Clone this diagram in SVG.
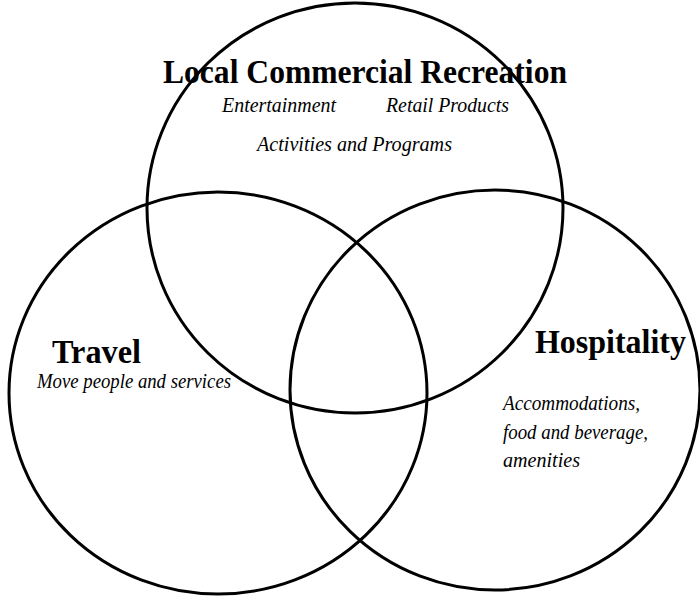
<svg xmlns="http://www.w3.org/2000/svg" width="700" height="596" viewBox="0 0 700 596">
<style>
.c{fill:none;stroke:#000;stroke-width:3}
.h{font-family:"Liberation Serif","Times New Roman",serif;font-weight:bold;font-size:34px;fill:#000}
.i{font-family:"Liberation Serif","Times New Roman",serif;font-style:italic;font-size:22px;fill:#000}
</style>
<rect width="700" height="596" fill="#fff"/>
<g id="connectors"/>
<g id="recreation">
<ellipse class="c" cx="355" cy="208" rx="208" ry="205"/>
<text class="h" x="163" y="83" textLength="404" lengthAdjust="spacingAndGlyphs">Local Commercial Recreation</text>
<text class="i" x="222" y="112" textLength="114" lengthAdjust="spacingAndGlyphs">Entertainment</text>
<text class="i" x="386" y="112" textLength="123" lengthAdjust="spacingAndGlyphs">Retail Products</text>
<text class="i" x="257" y="151" textLength="195" lengthAdjust="spacingAndGlyphs">Activities and Programs</text>
</g>
<g id="travel">
<ellipse class="c" cx="218" cy="393" rx="209" ry="201"/>
<text class="h" x="52" y="363" textLength="89" lengthAdjust="spacingAndGlyphs">Travel</text>
<text class="i" x="37" y="388" textLength="194" lengthAdjust="spacingAndGlyphs">Move people and services</text>
</g>
<g id="hospitality">
<ellipse class="c" cx="495" cy="390" rx="205" ry="200"/>
<text class="h" x="535" y="353" textLength="151" lengthAdjust="spacingAndGlyphs">Hospitality</text>
<text class="i" x="503" y="410" textLength="137" lengthAdjust="spacingAndGlyphs">Accommodations,</text>
<text class="i" x="503" y="439" textLength="145" lengthAdjust="spacingAndGlyphs">food and beverage,</text>
<text class="i" x="503" y="467" textLength="77" lengthAdjust="spacingAndGlyphs">amenities</text>
</g>
</svg>
